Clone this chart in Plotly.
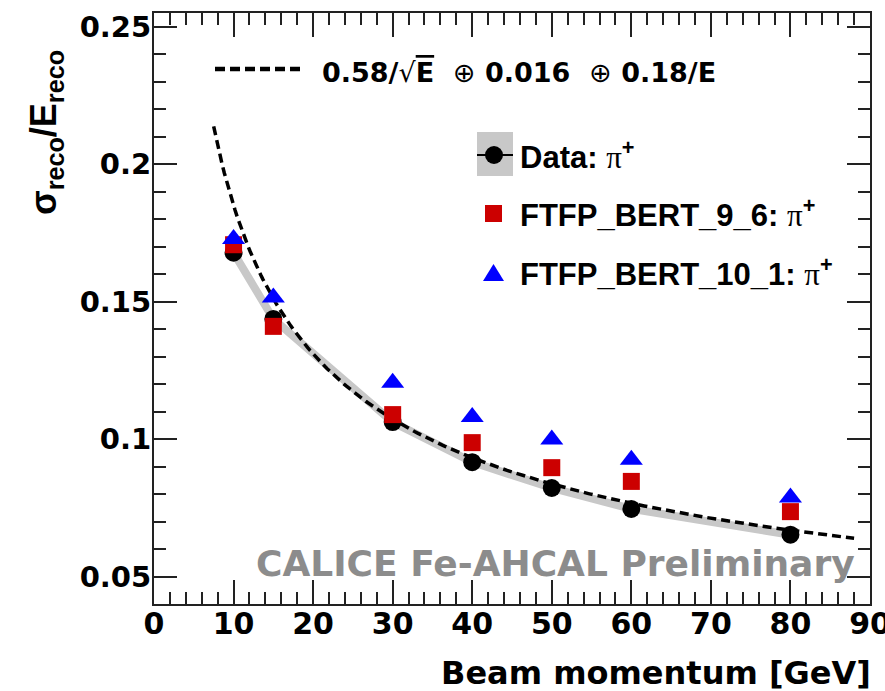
import numpy as np
import plotly.graph_objects as go

# ---------------- data ----------------
beam_momentum = [10, 15, 30, 40, 50, 60, 80]
data_pi = [0.1678, 0.1437, 0.1062, 0.0916, 0.0822, 0.0746, 0.0652]
ftfp_bert_9_6 = [0.1707, 0.1410, 0.1089, 0.0987, 0.0896, 0.0846, 0.0736]
ftfp_bert_10_1 = [0.1728, 0.1515, 0.1205, 0.1080, 0.0998, 0.0925, 0.0787]

# fit function parameters: a/sqrt(E) (+) b (+) c/E
fit_a, fit_b, fit_c = 0.58, 0.016, 0.18
fit_range = [7.5, 88.0]

x_ticks = [0, 10, 20, 30, 40, 50, 60, 70, 80, 90]
y_ticks = [0.05, 0.1, 0.15, 0.2, 0.25]
y_ticklabels = ["0.05", "0.1", "0.15", "0.2", "0.25"]

# ---------------- layout geometry (pixels) ----------------
W, H = 885, 691
L, R, T, B = 154, 870, 13, 604


def px(x):
    return (x - L) / (R - L)


def py(y):
    return (B - y) / (B - T)


E_fit = np.linspace(fit_range[0], fit_range[1], 300)
res_fit = np.sqrt((fit_a / np.sqrt(E_fit)) ** 2 + fit_b ** 2 + (fit_c / E_fit) ** 2)

fig = go.Figure()

# grey data band
fig.add_trace(go.Scatter(x=beam_momentum, y=data_pi, mode="lines",
                         line=dict(color="#c8c8c8", width=8), showlegend=False,
                         hoverinfo="skip"))
# fit curve
fig.add_trace(go.Scatter(x=E_fit, y=res_fit, mode="lines",
                         line=dict(color="black", width=3.5, dash="9px,5px"),
                         showlegend=False))
# data points
fig.add_trace(go.Scatter(x=beam_momentum, y=data_pi, mode="markers",
                         marker=dict(symbol="circle", size=18, color="black"),
                         showlegend=False))
fig.add_trace(go.Scatter(x=beam_momentum, y=ftfp_bert_9_6, mode="markers",
                         marker=dict(symbol="square", size=17, color="#cc0000"),
                         showlegend=False))
fig.add_trace(go.Scatter(x=beam_momentum, y=ftfp_bert_10_1, mode="markers",
                         marker=dict(symbol="triangle-up", size=20, color="#0000ff"),
                         showlegend=False))

axis_common = dict(showline=True, linecolor="#222222", linewidth=2, mirror="allticks",
                   ticks="inside", tickcolor="#222222", tickwidth=2,
                   showgrid=False, zeroline=False, automargin=False)

fig.update_xaxes(range=[0, 90], tickvals=x_ticks, ticklen=24,
                 minor=dict(dtick=2, ticks="inside", ticklen=12, tickcolor="#222222",
                            tickwidth=2, showgrid=False),
                 tickfont=dict(family="DejaVu Sans", size=30, color="black", weight="bold"),
                 ticklabelstandoff=-8, ticklabeloverflow="allow",
                 **axis_common)
fig.update_yaxes(range=[0.04, 0.255], tickvals=y_ticks, ticktext=y_ticklabels, ticklen=23,
                 minor=dict(dtick=0.01, ticks="inside", ticklen=12, tickcolor="#222222",
                            tickwidth=2, showgrid=False),
                 tickfont=dict(family="DejaVu Sans", size=29, color="black", weight="bold"),
                 ticklabelstandoff=-5,
                 **axis_common)

shapes = []
annotations = []

# axis titles
annotations.append(dict(x=px(873), y=py(673), xref="paper", yref="paper",
                        text="Beam momentum [GeV]", showarrow=False,
                        xanchor="right", yanchor="middle",
                        font=dict(family="DejaVu Sans", size=32, color="black", weight="bold")))
annotations.append(dict(x=px(46), y=py(133), xref="paper", yref="paper",
                        text="σ<sub>reco</sub>/E<sub>reco</sub>", showarrow=False,
                        textangle=-90, xanchor="center", yanchor="middle",
                        font=dict(family="Liberation Sans", size=36, color="black", weight="bold")))

# watermark
annotations.append(dict(x=px(857), y=py(563), xref="paper", yref="paper",
                        text="CALICE Fe-AHCAL Preliminary", showarrow=False,
                        xanchor="right", yanchor="middle",
                        font=dict(family="DejaVu Sans", size=36, color="#8c8c8c", weight="bold")))

# legend: fit line
shapes.append(dict(type="line", xref="paper", yref="paper",
                   x0=px(215), x1=px(302), y0=py(69), y1=py(69),
                   line=dict(color="black", width=4.5, dash="10px,5px")))
oplus = "<span style='font-weight:normal'>⊕</span>"
annotations.append(dict(x=px(320), y=py(72), xref="paper", yref="paper",
                        text="0.58/<span style='font-weight:normal'>√</span>"
                             "<span style='text-decoration:overline'>E</span>  "
                             + oplus + " 0.016  " + oplus + " 0.18/E",
                        showarrow=False, xanchor="left", yanchor="middle",
                        font=dict(family="DejaVu Sans", size=27, color="black", weight="bold")))

# legend: data
shapes.append(dict(type="rect", xref="paper", yref="paper",
                   x0=px(477), x1=px(513), y0=py(176), y1=py(132),
                   fillcolor="#c8c8c8", line=dict(width=0)))
shapes.append(dict(type="line", xref="paper", yref="paper",
                   x0=px(477), x1=px(513), y0=py(155), y1=py(155),
                   line=dict(color="black", width=2)))
shapes.append(dict(type="circle", xref="paper", yref="paper",
                   x0=px(485), x1=px(503), y0=py(164), y1=py(146),
                   fillcolor="black", line=dict(width=0)))
# legend: red square
shapes.append(dict(type="rect", xref="paper", yref="paper",
                   x0=px(485), x1=px(502), y0=py(222), y1=py(205),
                   fillcolor="#cc0000", line=dict(width=0)))
# legend: blue triangle
shapes.append(dict(type="path", xref="paper", yref="paper",
                   path="M {} {} L {} {} L {} {} Z".format(px(483), py(281), px(504), py(281),
                                                           px(493.5), py(264)),
                   fillcolor="#0000ff", line=dict(width=0)))

leg_font = dict(family="Liberation Sans", size=31, color="black", weight="bold")
pi_plus = "<span style='font-family:Liberation Serif;font-weight:normal'>π</span><sup>+</sup>"
for ytxt, txt in [(155, "Data: " + pi_plus), (213, "FTFP_BERT_9_6: " + pi_plus),
                  (272, "FTFP_BERT_10_1: " + pi_plus)]:
    annotations.append(dict(x=px(518), y=py(ytxt), xref="paper", yref="paper",
                            text=txt, showarrow=False, xanchor="left", yanchor="middle",
                            font=leg_font))

fig.update_layout(width=W, height=H, margin=dict(l=L, r=W - R, t=T, b=H - B, autoexpand=False),
                  paper_bgcolor="white", plot_bgcolor="white",
                  shapes=shapes, annotations=annotations, showlegend=False)

fig.write_html("out.html")
